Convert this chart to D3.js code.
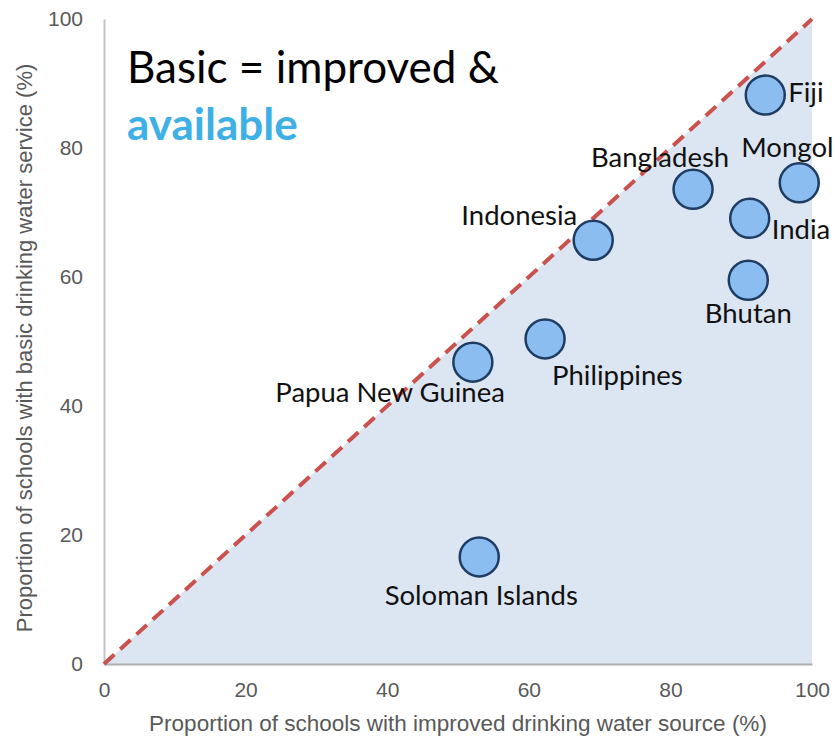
<!DOCTYPE html>
<html>
<head>
<meta charset="utf-8">
<script src="https://cdn.jsdelivr.net/npm/d3@7"></script>
<style>
  html, body { margin: 0; padding: 0; background: #ffffff; }
  svg { display: block; }
</style>
</head>
<body>
<div id="chart"></div>
<script>
// Country values: improved source (x) vs basic service (y), in percent
const countries = ["Fiji", "Mongolia", "Bangladesh", "Indonesia", "India", "Bhutan", "Philippines", "Papua New Guinea", "Soloman Islands"];
const improvedSource = [93.4, 98.2, 83.2, 69.1, 91.2, 91.0, 62.3, 52.1, 53.0];
const basicService   = [88.2, 74.6, 73.6, 65.7, 69.1, 59.5, 50.4, 46.8, 16.6];
const xTicks = [0, 20, 40, 60, 80, 100];
const yTicks = [0, 20, 40, 60, 80, 100];

// Where each country name sits relative to its bubble
const labelPlacement = {
  "Fiji":             { dx: 23,  dy: 7,  anchor: "start" },
  "Mongolia":         { dx: -58, dy: -26, anchor: "start" },
  "Bangladesh":       { dx: -33, dy: -22, anchor: "middle" },
  "Indonesia":        { dx: -16, dy: -15, anchor: "end" },
  "India":            { dx: 22,  dy: 21, anchor: "start" },
  "Bhutan":           { dx: 0,   dy: 43, anchor: "middle" },
  "Philippines":      { dx: 7,   dy: 46, anchor: "start" },
  "Papua New Guinea": { dx: 32,  dy: 40, anchor: "end" },
  "Soloman Islands":  { dx: 2,   dy: 48, anchor: "middle" }
};

const W = 834, H = 738;
const svg = d3.select("#chart").append("svg").attr("width", W).attr("height", H);

const x = d3.scaleLinear().domain([0, 100]).range([104, 812]);
const y = d3.scaleLinear().domain([0, 100]).range([664, 19]);

const axisFont = "Arial, 'Liberation Sans', sans-serif";
const labelFont = "Lato, 'Open Sans', sans-serif";
const axisColor = "#595959";

// Shaded region below the line of equality
svg.append("path")
  .attr("d", d3.line()([[x(0), y(0)], [x(100), y(100)], [x(100), y(0)]]) + "Z")
  .attr("fill", "#dce6f2");

// Axes (no tick marks, grey labels)
const xAxis = svg.append("g").attr("transform", `translate(0,${y(0)})`)
  .call(d3.axisBottom(x).tickValues(xTicks).tickSize(0).tickPadding(18));
xAxis.select(".domain").attr("stroke", "#b0b0b0").attr("stroke-width", 2);
xAxis.selectAll("text").attr("fill", axisColor).style("font-family", axisFont).style("font-size", "21px");

const yAxis = svg.append("g").attr("transform", `translate(${x(0)},0)`)
  .call(d3.axisLeft(y).tickValues(yTicks).tickSize(0).tickPadding(21));
yAxis.select(".domain").attr("stroke", "#c4c4c4").attr("stroke-width", 2);
yAxis.selectAll("text").attr("fill", axisColor).style("font-family", axisFont).style("font-size", "21px");

// Axis titles
svg.append("text")
  .attr("x", 458).attr("y", 731)
  .attr("text-anchor", "middle")
  .attr("fill", axisColor)
  .style("font-family", axisFont)
  .style("font-size", "22.5px")
  .text("Proportion of schools with improved drinking water source (%)");

svg.append("text")
  .attr("transform", "translate(32,348) rotate(-90)")
  .attr("text-anchor", "middle")
  .attr("fill", axisColor)
  .style("font-family", axisFont)
  .style("font-size", "22px")
  .text("Proportion of schools with basic drinking water service (%)");

// Line of equality (basic = improved)
svg.append("line")
  .attr("x1", x(0)).attr("y1", y(0))
  .attr("x2", x(100)).attr("y2", y(100))
  .attr("stroke", "#c9514e")
  .attr("stroke-width", 4)
  .attr("stroke-dasharray", "14 8");

// Bubbles
const data = countries.map((c, i) => ({ name: c, xv: improvedSource[i], yv: basicService[i] }));

svg.append("g").selectAll("circle")
  .data(data).join("circle")
  .attr("cx", d => x(d.xv))
  .attr("cy", d => y(d.yv))
  .attr("r", 19.5)
  .attr("fill", "#8bbdf0")
  .attr("stroke", "#1f3c63")
  .attr("stroke-width", 2.5);

// Country names
svg.append("g").selectAll("text")
  .data(data).join("text")
  .attr("x", d => x(d.xv) + labelPlacement[d.name].dx)
  .attr("y", d => y(d.yv) + labelPlacement[d.name].dy)
  .attr("text-anchor", d => labelPlacement[d.name].anchor)
  .attr("fill", "#111111")
  .style("font-family", labelFont)
  .style("font-size", "27.5px")
  .text(d => d.name);

// Heading
svg.append("text")
  .attr("x", 127).attr("y", 83)
  .style("font-family", labelFont)
  .style("font-size", "44px")
  .attr("fill", "#000000")
  .text("Basic = improved &");
svg.append("text")
  .attr("x", 127).attr("y", 140)
  .style("font-family", labelFont)
  .style("font-size", "44px")
  .style("font-weight", "bold")
  .attr("fill", "#3fb0e6")
  .text("available");
</script>
</body>
</html>
